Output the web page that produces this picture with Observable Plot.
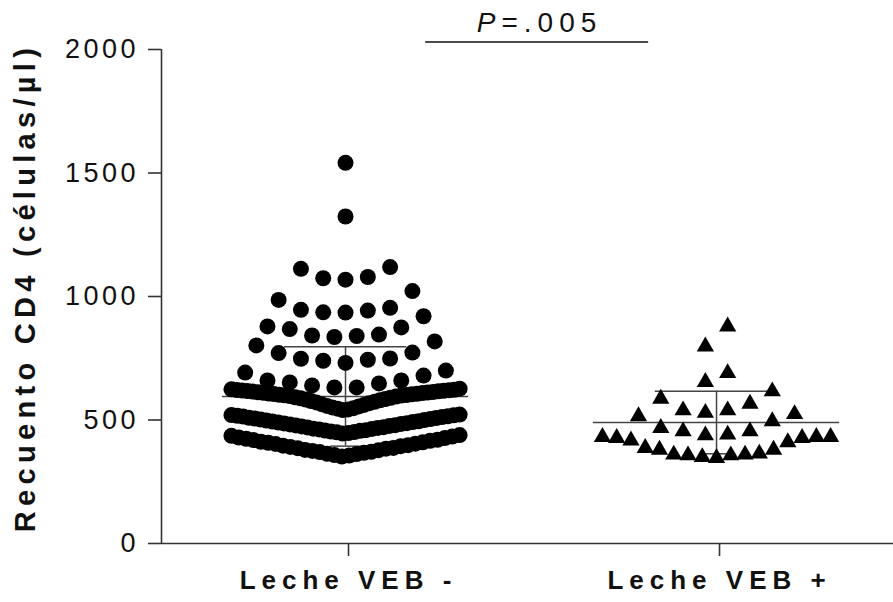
<!DOCTYPE html>
<html>
<head>
<meta charset="utf-8">
<script src="https://cdn.jsdelivr.net/npm/d3@7"></script>
<script src="https://cdn.jsdelivr.net/npm/@observablehq/plot@0.6"></script>
<style>
  html, body { margin: 0; padding: 0; background: #fff; }
  #chart svg { display: block; }
</style>
</head>
<body>
<div id="chart"></div>
<script>
// Group names (x categories) and CD4 counts per woman (células/µl)
const groups = ["Leche VEB -", "Leche VEB +"];

const cd4Negative = [
  // 330–430
  352, 356, 358, 362, 363, 367, 370, 371, 375, 378, 379, 384, 386, 387, 391, 394,
  396, 398, 403, 404, 408, 410, 412, 416, 419, 420, 424, 427, 429, 433, 436, 439,
  // 440–530
  445, 447, 450, 451, 453, 456, 457, 459, 462, 464, 465, 468, 470, 471, 474, 476,
  478, 479, 482, 484, 486, 487, 490, 492, 494, 495, 498, 500, 502, 504, 506, 508,
  509, 512, 514, 515, 517, 519, 520, 522,
  // 540–630
  540, 543, 546, 548, 551, 555, 557, 561, 564, 568, 571, 574, 577, 580, 583, 585,
  588, 590, 592, 595, 597, 599, 600, 601, 602, 604, 605, 606, 607, 609, 610, 611,
  612, 613, 615, 616, 617, 618, 619, 620, 621, 622, 624, 627,
  // upper tail
  632, 632, 640, 648, 652, 660, 660, 680, 692, 700,
  731, 740, 744, 748, 749, 771, 773, 802, 818,
  836, 840, 842, 846, 868, 875, 879, 920,
  935, 936, 943, 946, 954, 986, 1022,
  1068, 1074, 1079, 1112, 1119,
  1324, 1541
];

const cd4Positive = [
  356, 360, 367, 367, 370, 370, 374, 390, 390, 397, 420, 427, 437, 437, 441, 441, 441,
  448, 451, 464, 464, 478, 505, 525, 534,
  539, 549, 549, 576, 596, 626,
  664, 700,
  808, 889
];

const yTicks = [0, 500, 1000, 1500, 2000];
const yTitle = "Recuento CD4 (células/µl)";
const pLabel = "P=.005";

// x is numeric: group i sits at i + 1, swarm offsets are in the same units
const xDomain = [0.504, 2.477];
const BIN = 90;          // values closer than this share one swarm row
const STEP = 0.0601;     // spacing between neighbours in a row
const MAX_SPAN = 0.615;  // widest a row may get

// Prism-style scatter: sort, cut into rows, lowest value in the centre, then alternate outward
function swarm(values, gi) {
  const sorted = values.slice().sort((a, b) => a - b);
  const rows = [];
  let row = null;
  for (const v of sorted) {
    if (!row || v - row[0] >= BIN) { row = []; rows.push(row); }
    row.push(v);
  }
  const out = [];
  for (const r of rows) {
    const n = r.length;
    const step = n > 1 ? Math.min(STEP, MAX_SPAN / (n - 1)) : 0;
    r.forEach((v, i) => {
      const k = n % 2
        ? (i === 0 ? 0 : Math.ceil(i / 2) * (i % 2 ? -1 : 1))
        : (Math.floor(i / 2) + 0.5) * (i % 2 ? 1 : -1);
      out.push({group: groups[gi], value: v, x: gi + 1 + k * step});
    });
  }
  return out;
}

const negPoints = swarm(cd4Negative, 0);
const posPoints = swarm(cd4Positive, 1);

const stats = [cd4Negative, cd4Positive].map((vals, i) => ({
  g: i + 1,
  mean: d3.mean(vals),
  sd: d3.deviation(vals)
}));

const lineColor = "#444";

const chart = Plot.plot({
  width: 893,
  height: 602,
  marginLeft: 161,
  marginRight: 0,
  marginTop: 49,
  marginBottom: 59,
  style: {fontFamily: '"Liberation Sans", Arial, Helvetica, sans-serif', background: "#fff", color: "#000"},
  x: {domain: xDomain},
  y: {domain: [0, 2000]},
  marks: [
    // axis lines
    Plot.ruleX([xDomain[0]], {y1: 0, y2: 2000, stroke: "#333", strokeWidth: 1.6}),
    Plot.ruleY([0], {x1: xDomain[0], x2: xDomain[1], stroke: "#333", strokeWidth: 1.6}),
    Plot.axisY(yTicks, {
      tickSize: 13, tickPadding: 9.5, fontSize: 27, stroke: "#333", strokeWidth: 1.6,
      fill: "#111", label: null, tickFormat: d => String(d)
    }),
    Plot.axisX([1, 2], {
      tickSize: 13, tickPadding: 14, fontSize: 26, fontWeight: "bold", dx: 3,
      stroke: "#333", strokeWidth: 1.6, fill: "#111", label: null,
      tickFormat: d => groups[d - 1]
    }),
    // mean ± SD
    Plot.ruleY(stats, {y: "mean", x1: d => d.g - 0.332, x2: d => d.g + 0.332, stroke: lineColor, strokeWidth: 1.5}),
    Plot.ruleX(stats, {x: "g", y1: d => d.mean - d.sd, y2: d => d.mean + d.sd, stroke: lineColor, strokeWidth: 1.5}),
    Plot.ruleY(stats, {y: d => d.mean + d.sd, x1: d => d.g - 0.165, x2: d => d.g + 0.165, stroke: lineColor, strokeWidth: 1.5}),
    Plot.ruleY(stats, {y: d => d.mean - d.sd, x1: d => d.g - 0.04, x2: d => d.g + 0.04, stroke: lineColor, strokeWidth: 1.5}),
    // individual women
    Plot.dot(negPoints, {x: "x", y: "value", r: 8, symbol: "circle", fill: "#000"}),
    Plot.dot(posPoints, {x: "x", y: "value", r: 6.4, symbol: "triangle", fill: "#000", dy: 2.5}),
    // significance bar
    Plot.ruleY([2030], {x1: 1.216, x2: 1.817, stroke: "#111", strokeWidth: 1.5}),
    Plot.text([pLabel], {x: 1.523, y: 2070, text: d => d, lineAnchor: "bottom", fontSize: 28, fill: "#111"}),
    // y title
    Plot.text([yTitle], {
      text: d => d, frameAnchor: "left", textAnchor: "middle", lineAnchor: "middle",
      rotate: -90, dx: -136, dy: -9, fontSize: 29, fontWeight: "bold", fill: "#111"
    })
  ]
});

document.getElementById("chart").appendChild(chart);

// letter spacing and the italic P
const svg = d3.select(chart);
svg.selectAll('[aria-label="y-axis tick label"] text').style("letter-spacing", "3.5px");
svg.selectAll('[aria-label="x-axis tick label"] text').style("letter-spacing", "6px");
svg.selectAll("text").filter(function () { return this.textContent === yTitle; })
  .style("letter-spacing", "5.3px");
svg.selectAll("text").filter(function () { return this.textContent === pLabel; })
  .style("letter-spacing", "6px")
  .each(function () {
    const t = d3.select(this);
    t.text(null);
    t.append("tspan").attr("font-style", "italic").text(pLabel.slice(0, 1));
    t.append("tspan").text(pLabel.slice(1));
  });
</script>
</body>
</html>
